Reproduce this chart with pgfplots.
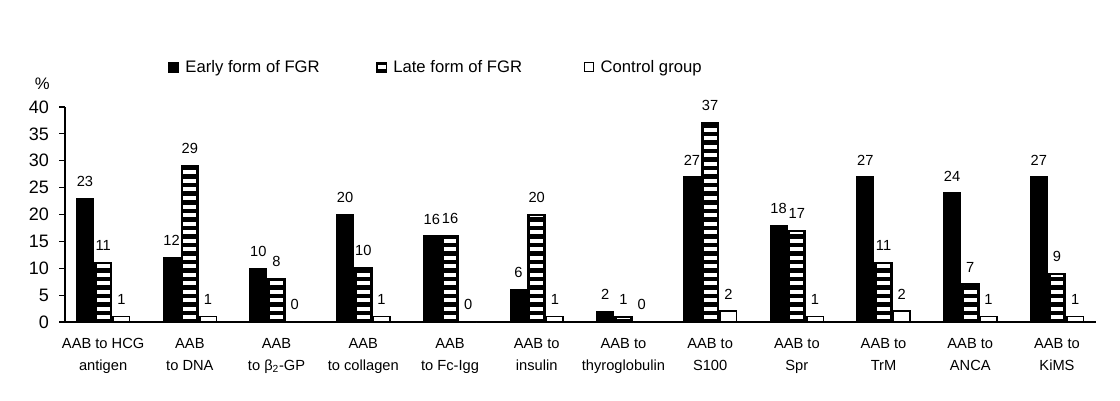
\documentclass[border=0pt]{standalone}
\usepackage{fontspec}
\setmainfont{Liberation Sans}
\usepackage{pgfplots}
\pgfplotsset{compat=1.18}

\pgfplotstableread{
x early late control
0 23 11 1
1 12 29 1
2 10 8 0
3 20 10 1
4 16 16 0
5 6 20 1
6 2 1 0
7 27 37 2
8 18 17 1
9 27 11 2
10 24 7 1
11 27 9 1
}\fgrdata

\begin{document}
\begin{tikzpicture}
\useasboundingbox (-48.75pt,-58.5pt) rectangle (791.25pt,241.5pt);
\begin{axis}[
    scale only axis,
    width=773.25pt,
    height=161.25pt,
    ybar,
    bar width=0.19,
    xmin=-0.44, xmax=11.45,
    ymin=0, ymax=40,
    enlargelimits=false,
    axis x line*=bottom,
    axis y line*=left,
    x axis line style={line width=1.5pt},
    y axis line style={line width=0.8pt},
    ytick={0,5,...,40},
    xtick={0,...,11},
    xticklabels={{AAB to HCG\\antigen},{AAB\\to DNA},{AAB\\to β\textsubscript{2}-GP},{AAB\\to collagen},{AAB\\to Fc-Igg},{AAB to\\insulin},{AAB to\\thyroglobulin},{AAB to\\S100},{AAB to\\Spr},{AAB to\\TrM},{AAB to\\ANCA},{AAB to\\KiMS}},
    xtick style={draw=none},
    ytick style={line width=0.8pt, black},
    tick align=outside,
    major tick length=4.5pt,
    /pgf/number format/assume math mode=true,
    yticklabel style={font=\fontsize{13.5}{15}\selectfont, xshift=-4pt},
    xticklabel style={font=\fontsize{11}{17}\selectfont, align=center, yshift=-4pt},
    legend columns=3,
    legend style={draw=none, at={(0.0999,1.186)}, anchor=west, inner sep=0pt,
        font=\fontsize{12.5}{14}\selectfont,
        /tikz/every odd column/.append style={column sep=3pt},
        /tikz/every even column/.append style={column sep=0pt}},
    legend cell align=left,
]
% early form: solid black
\addplot[fill=black, draw=black, line width=1pt, bar shift=-0.21,
    nodes near coords, nodes near coords style={font=\fontsize{11}{12}\selectfont, yshift=5pt, black},
    forget plot] table[x=x, y=early] {\fgrdata};
% late form: black bar, white horizontal stripes, black outline
\addplot[fill=black, draw=black, line width=1pt, bar shift=0, forget plot] table[x=x, y=late] {\fgrdata};
\addplot[ycomb, draw=white, line width=9.6pt, dash pattern=on 3pt off 3.4pt, dash phase=4.5pt,
    mark=none, forget plot] table[x=x, y=late] {\fgrdata};
\addplot[fill=none, draw=black, line width=1.5pt, bar shift=0,
    nodes near coords, nodes near coords style={font=\fontsize{11}{12}\selectfont, yshift=5pt, black},
    forget plot] table[x=x, y=late] {\fgrdata};
% control group: white
\addplot[fill=white, draw=black, line width=1.2pt, bar shift=0.21,
    nodes near coords, nodes near coords style={font=\fontsize{11}{12}\selectfont, yshift=5pt, black},
    forget plot] table[x=x, y=control] {\fgrdata};

\addlegendimage{legend image code/.code={\fill[black] (0pt,-3.75pt) rectangle (7.5pt,3.75pt);}}
\addlegendentry{\makebox[141pt][l]{Early form of FGR}}
\addlegendimage{legend image code/.code={\fill[black] (0pt,-3.75pt) rectangle (7.5pt,3.75pt);
    \fill[white] (1.2pt,-1.3pt) rectangle (6.3pt,1.3pt);}}
\addlegendentry{\makebox[141pt][l]{Late form of FGR}}
\addlegendimage{legend image code/.code={\draw[black, fill=white, line width=0.8pt] (0.4pt,-3.35pt) rectangle (7.1pt,3.35pt);}}
\addlegendentry{Control group}
\end{axis}
\node[font=\fontsize{12.5}{14}\selectfont] at (-17pt,179pt) {\%};
\end{tikzpicture}
\end{document}
